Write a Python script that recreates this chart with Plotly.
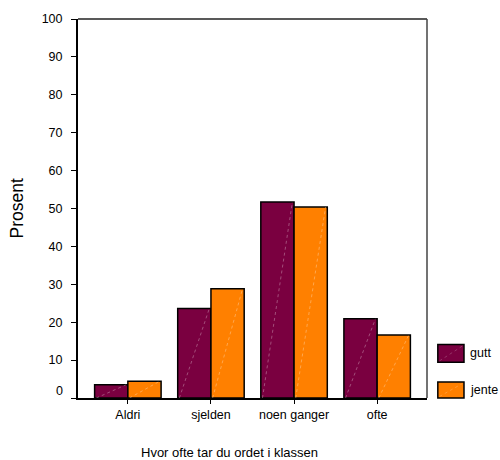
import plotly.graph_objects as go

categories = ["Aldri", "sjelden", "noen ganger", "ofte"]
series_names = ["gutt", "jente"]
gutt = [3.5, 23.6, 51.7, 20.9]
jente = [4.4, 28.8, 50.4, 16.6]
y_ticks = [0, 10, 20, 30, 40, 50, 60, 70, 80, 90, 100]
colors = ["#7A0040", "#FF8000"]

FONT = "Liberation Sans, Arial, sans-serif"

fig = go.Figure()
for name, vals, col in zip(series_names, [gutt, jente], colors):
    fig.add_trace(go.Bar(
        x=categories, y=vals, name=name,
        marker=dict(color=col, line=dict(color="black", width=1.5)),
        showlegend=False,
    ))

# faint diagonal texture lines in each bar (bottom-left to top-right)
half = 0.2
for k, (vals, off) in enumerate(zip([gutt, jente], [-0.2, 0.2])):
    for i, v in enumerate(vals):
        fig.add_shape(type="line", xref="x", yref="y",
                      x0=i + off - half + 0.02, y0=0, x1=i + off + half - 0.02, y1=v,
                      line=dict(color="rgba(255,255,255,0.3)", width=1, dash="dot"),
                      layer="above")

fig.update_layout(
    width=500, height=460,
    margin=dict(l=78, r=73, t=15, b=62),
    paper_bgcolor="white", plot_bgcolor="white",
    barmode="group", bargap=0.2, bargroupgap=0,
    font=dict(family=FONT, size=12.5, color="black"),
    xaxis=dict(
        range=[-0.6, 3.6], showline=True, linecolor="black", linewidth=2,
        mirror=False, ticks="outside", ticklen=4, tickcolor="black",
        tickfont=dict(size=12.5), showgrid=False, zeroline=False,
    ),
    yaxis=dict(
        range=[0, 100], tickvals=y_ticks,
        ticktext=["" if t == 0 else str(t) for t in y_ticks],
        showline=True, linecolor="black",
        linewidth=2, ticks="outside", ticklen=5, tickcolor="black",
        tickfont=dict(size=12.5), showgrid=False, zeroline=False,
        ticklabelstandoff=6,
    ),
)

# "0" label sits slightly above its tick in the original
fig.add_annotation(text=str(y_ticks[0]), xref="paper", yref="y", x=0, y=y_ticks[0],
                   xanchor="right", yanchor="middle", xshift=-13, yshift=7,
                   showarrow=False, font=dict(size=12.5))

# frame top and right
fig.add_shape(type="line", xref="paper", yref="paper", x0=0, x1=1, y0=1, y1=1,
              line=dict(color="#222222", width=1.5))
fig.add_shape(type="line", xref="paper", yref="paper", x0=1, x1=1, y0=0, y1=1,
              line=dict(color="#444444", width=1.5))

# axis titles
fig.add_annotation(text="Prosent", xref="paper", yref="paper",
                   x=-0.175, y=0.5, xanchor="center", yanchor="middle",
                   textangle=-90, showarrow=False, font=dict(size=17.5))
fig.add_annotation(text="Hvor ofte tar du ordet i klassen", xref="paper", yref="paper",
                   x=0.433, y=-0.144, xanchor="center", yanchor="middle",
                   showarrow=False, font=dict(size=13))

# custom legend
legend_y = [(0.094, 0.141), (0.0, 0.042)]
for name, col, (y0, y1) in zip(series_names, colors, legend_y):
    fig.add_shape(type="rect", xref="paper", yref="paper",
                  x0=1.031, x1=1.106, y0=y0, y1=y1,
                  fillcolor=col, line=dict(color="black", width=1.5))
    fig.add_shape(type="line", xref="paper", yref="paper",
                  x0=1.036, x1=1.101, y0=y0 + 0.004, y1=y1 - 0.004,
                  line=dict(color="rgba(255,255,255,0.2)", width=1, dash="dot"))
    fig.add_annotation(text=name, xref="paper", yref="paper",
                       x=1.118, y=(y0 + y1) / 2, xanchor="left", yanchor="middle",
                       showarrow=False, font=dict(size=12.5))

fig.write_html(
    "out.html",
    config={"displayModeBar": False},
    post_script="document.body.style.margin='0';document.body.style.padding='0';",
)
